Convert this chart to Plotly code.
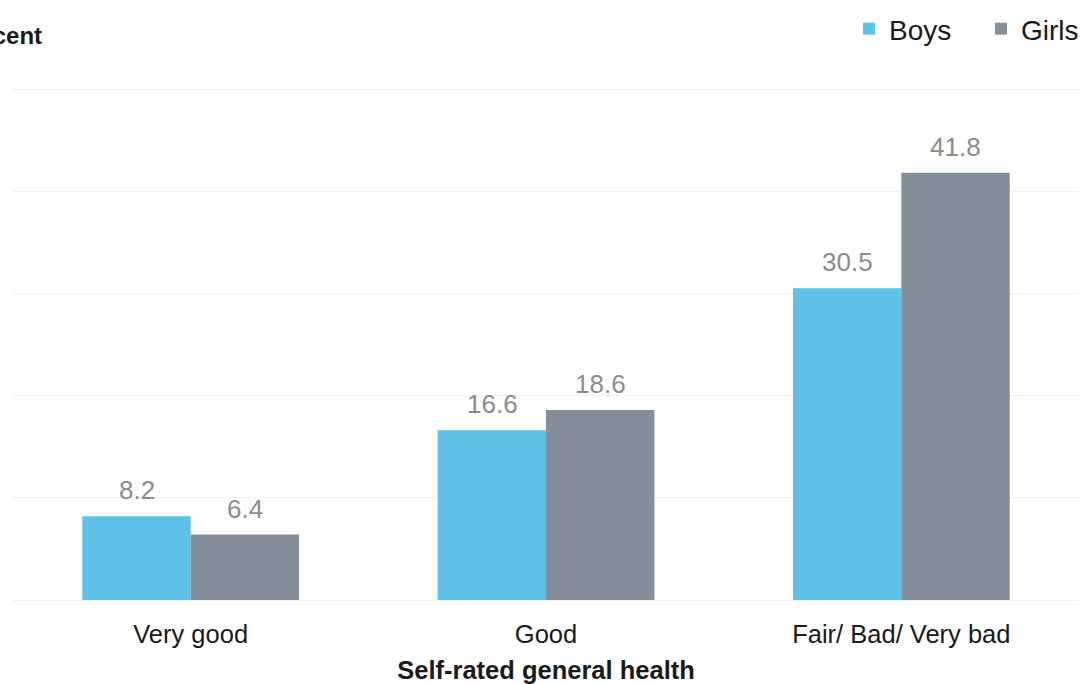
import plotly.graph_objects as go

categories = ["Very good", "Good", "Fair/ Bad/ Very bad"]
boys = [8.2, 16.6, 30.5]
girls = [6.4, 18.6, 41.8]
series_names = ["Boys", "Girls"]
colors = ["#5EC1E8", "#848F9B"]
y_ticks = [0, 10, 20, 30, 40, 50]

FONT = "Liberation Sans, Arial, sans-serif"

fig = go.Figure()
for name, vals, col in zip(series_names, [boys, girls], colors):
    fig.add_trace(go.Bar(name=name, x=categories, y=vals, marker_color=col,
                         marker_line_width=0))

# value labels
for i, vals in enumerate([boys, girls]):
    shift = -54 if i == 0 else 54
    for c, v in zip(categories, vals):
        fig.add_annotation(x=c, y=v, text=f"{v:.1f}", showarrow=False,
                           xshift=shift, yshift=26, yanchor="middle",
                           font=dict(family=FONT, size=26, color="#8C8C8C"))

fig.add_annotation(xref="paper", yref="paper", x=(44 - 13) / 1066, y=1,
                   yshift=52, xanchor="right", yanchor="middle",
                   text="<b>Percent</b>", showarrow=False,
                   font=dict(family=FONT, size=24, color="#1a1a1a"))

fig.update_layout(
    width=1082, height=684,
    margin=dict(l=13, r=3, t=87, b=84, autoexpand=False),
    paper_bgcolor="white", plot_bgcolor="white",
    barmode="group", bargap=0.39, bargroupgap=0,
    font=dict(family=FONT, size=25.5, color="#1a1a1a"),
    showlegend=True,
    legend=dict(orientation="h", x=849 / 1082, xanchor="left", xref="container",
                y=1 - 29 / 684, yref="container", yanchor="middle",
                font=dict(family=FONT, size=28, color="#1a1a1a"),
                entrywidth=87, entrywidthmode="pixels",
                itemclick=False, traceorder="normal"),
)
fig.update_yaxes(range=[0, 50.2], tickvals=y_ticks, showticklabels=False,
                 showgrid=True, gridcolor="#EFEFEF", gridwidth=1,
                 zeroline=True, zerolinecolor="#EFEFEF", zerolinewidth=1,
                 showline=False, fixedrange=True, automargin=False)
fig.update_xaxes(showline=False, ticks="", ticklabelstandoff=16, automargin=False,
                 tickfont=dict(family=FONT, size=25.5, color="#1a1a1a"),
                 title=dict(text="<b>Self-rated general health</b>", standoff=15,
                            font=dict(family=FONT, size=25.5, color="#1a1a1a")))

fig.write_html("out.html", config={"displayModeBar": False},
               post_script="document.body.style.margin='0';document.body.style.overflow='hidden';")
